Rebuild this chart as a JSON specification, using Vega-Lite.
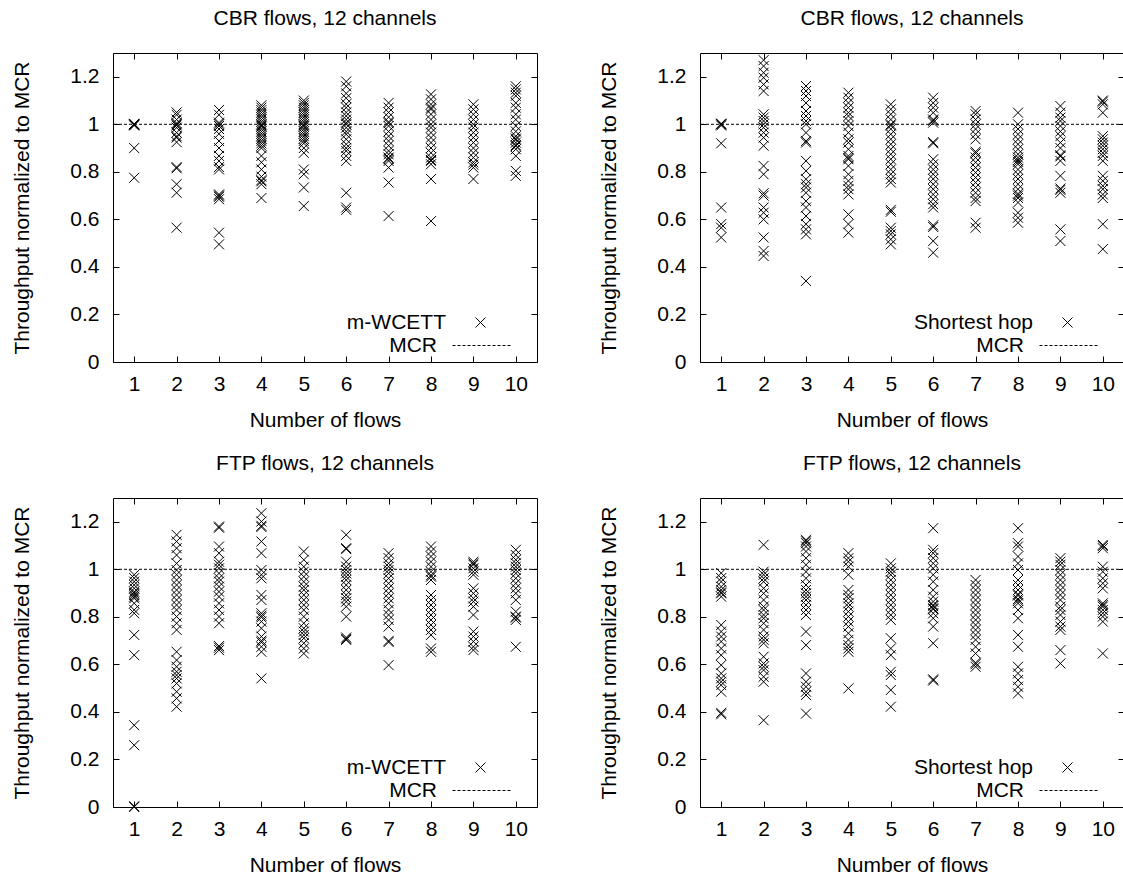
{
"$schema": "https://vega.github.io/schema/vega-lite/v6.json",
"background": "white",
"padding": {"left": 11, "top": 7, "right": 0, "bottom": 0},
"datasets": {
"cw": [
{"n":1,"v":1.0},{"n":1,"v":1.0},{"n":1,"v":0.998},{"n":1,"v":0.995},{"n":1,"v":1.002},{"n":1,"v":0.90},{"n":1,"v":0.775},
{"n":2,"v":1.05},{"n":2,"v":1.04},{"n":2,"v":1.02},{"n":2,"v":1.005},{"n":2,"v":1.0},{"n":2,"v":0.995},{"n":2,"v":0.986},{"n":2,"v":0.965},{"n":2,"v":0.95},{"n":2,"v":0.944},{"n":2,"v":0.925},{"n":2,"v":0.82},{"n":2,"v":0.815},{"n":2,"v":0.748},{"n":2,"v":0.712},{"n":2,"v":0.565},
{"n":3,"v":1.06},{"n":3,"v":1.04},{"n":3,"v":1.007},{"n":3,"v":1.0},{"n":3,"v":0.993},{"n":3,"v":0.98},{"n":3,"v":0.96},{"n":3,"v":0.93},{"n":3,"v":0.9},{"n":3,"v":0.867},{"n":3,"v":0.846},{"n":3,"v":0.82},{"n":3,"v":0.81},{"n":3,"v":0.705},{"n":3,"v":0.70},{"n":3,"v":0.695},{"n":3,"v":0.685},{"n":3,"v":0.544},{"n":3,"v":0.495},
{"n":4,"v":1.08},{"n":4,"v":1.07},{"n":4,"v":1.06},{"n":4,"v":1.05},{"n":4,"v":1.04},{"n":4,"v":1.03},{"n":4,"v":1.02},{"n":4,"v":1.01},{"n":4,"v":1.0},{"n":4,"v":0.995},{"n":4,"v":0.99},{"n":4,"v":0.98},{"n":4,"v":0.97},{"n":4,"v":0.96},{"n":4,"v":0.95},{"n":4,"v":0.94},{"n":4,"v":0.93},{"n":4,"v":0.92},{"n":4,"v":0.91},{"n":4,"v":0.9},{"n":4,"v":0.867},{"n":4,"v":0.84},{"n":4,"v":0.81},{"n":4,"v":0.78},{"n":4,"v":0.765},{"n":4,"v":0.76},{"n":4,"v":0.748},{"n":4,"v":0.69},
{"n":5,"v":1.10},{"n":5,"v":1.09},{"n":5,"v":1.08},{"n":5,"v":1.07},{"n":5,"v":1.06},{"n":5,"v":1.05},{"n":5,"v":1.04},{"n":5,"v":1.03},{"n":5,"v":1.02},{"n":5,"v":1.01},{"n":5,"v":1.0},{"n":5,"v":0.995},{"n":5,"v":0.99},{"n":5,"v":0.98},{"n":5,"v":0.97},{"n":5,"v":0.96},{"n":5,"v":0.95},{"n":5,"v":0.94},{"n":5,"v":0.93},{"n":5,"v":0.92},{"n":5,"v":0.9},{"n":5,"v":0.88},{"n":5,"v":0.81},{"n":5,"v":0.79},{"n":5,"v":0.734},{"n":5,"v":0.656},
{"n":6,"v":1.18},{"n":6,"v":1.16},{"n":6,"v":1.13},{"n":6,"v":1.11},{"n":6,"v":1.085},{"n":6,"v":1.07},{"n":6,"v":1.05},{"n":6,"v":1.035},{"n":6,"v":1.02},{"n":6,"v":1.007},{"n":6,"v":1.0},{"n":6,"v":0.986},{"n":6,"v":0.97},{"n":6,"v":0.958},{"n":6,"v":0.937},{"n":6,"v":0.916},{"n":6,"v":0.9},{"n":6,"v":0.888},{"n":6,"v":0.867},{"n":6,"v":0.846},{"n":6,"v":0.712},{"n":6,"v":0.65},{"n":6,"v":0.64},
{"n":7,"v":1.09},{"n":7,"v":1.07},{"n":7,"v":1.05},{"n":7,"v":1.03},{"n":7,"v":1.01},{"n":7,"v":1.005},{"n":7,"v":0.993},{"n":7,"v":0.97},{"n":7,"v":0.95},{"n":7,"v":0.93},{"n":7,"v":0.91},{"n":7,"v":0.888},{"n":7,"v":0.874},{"n":7,"v":0.86},{"n":7,"v":0.855},{"n":7,"v":0.846},{"n":7,"v":0.818},{"n":7,"v":0.755},{"n":7,"v":0.614},
{"n":8,"v":1.126},{"n":8,"v":1.105},{"n":8,"v":1.084},{"n":8,"v":1.07},{"n":8,"v":1.063},{"n":8,"v":1.042},{"n":8,"v":1.02},{"n":8,"v":1.0},{"n":8,"v":0.986},{"n":8,"v":0.965},{"n":8,"v":0.944},{"n":8,"v":0.923},{"n":8,"v":0.9},{"n":8,"v":0.88},{"n":8,"v":0.86},{"n":8,"v":0.85},{"n":8,"v":0.846},{"n":8,"v":0.832},{"n":8,"v":0.77},{"n":8,"v":0.593},
{"n":9,"v":1.084},{"n":9,"v":1.063},{"n":9,"v":1.042},{"n":9,"v":1.02},{"n":9,"v":1.0},{"n":9,"v":0.986},{"n":9,"v":0.965},{"n":9,"v":0.944},{"n":9,"v":0.923},{"n":9,"v":0.9},{"n":9,"v":0.88},{"n":9,"v":0.86},{"n":9,"v":0.84},{"n":9,"v":0.83},{"n":9,"v":0.818},{"n":9,"v":0.77},
{"n":10,"v":1.16},{"n":10,"v":1.147},{"n":10,"v":1.133},{"n":10,"v":1.12},{"n":10,"v":1.09},{"n":10,"v":1.07},{"n":10,"v":1.042},{"n":10,"v":1.02},{"n":10,"v":0.993},{"n":10,"v":0.97},{"n":10,"v":0.95},{"n":10,"v":0.94},{"n":10,"v":0.935},{"n":10,"v":0.923},{"n":10,"v":0.912},{"n":10,"v":0.908},{"n":10,"v":0.895},{"n":10,"v":0.867},{"n":10,"v":0.804},{"n":10,"v":0.783}
],
"cs": [
{"n":1,"v":1.0},{"n":1,"v":1.0},{"n":1,"v":0.995},{"n":1,"v":1.003},{"n":1,"v":0.92},{"n":1,"v":0.65},{"n":1,"v":0.58},{"n":1,"v":0.565},{"n":1,"v":0.524},
{"n":2,"v":1.27},{"n":2,"v":1.245},{"n":2,"v":1.217},{"n":2,"v":1.196},{"n":2,"v":1.168},{"n":2,"v":1.14},{"n":2,"v":1.042},{"n":2,"v":1.028},{"n":2,"v":1.014},{"n":2,"v":1.0},{"n":2,"v":0.986},{"n":2,"v":0.965},{"n":2,"v":0.944},{"n":2,"v":0.91},{"n":2,"v":0.825},{"n":2,"v":0.79},{"n":2,"v":0.71},{"n":2,"v":0.70},{"n":2,"v":0.65},{"n":2,"v":0.628},{"n":2,"v":0.6},{"n":2,"v":0.524},{"n":2,"v":0.467},{"n":2,"v":0.446},
{"n":3,"v":1.161},{"n":3,"v":1.14},{"n":3,"v":1.119},{"n":3,"v":1.09},{"n":3,"v":1.056},{"n":3,"v":1.035},{"n":3,"v":1.014},{"n":3,"v":1.0},{"n":3,"v":0.965},{"n":3,"v":0.93},{"n":3,"v":0.923},{"n":3,"v":0.846},{"n":3,"v":0.804},{"n":3,"v":0.769},{"n":3,"v":0.748},{"n":3,"v":0.734},{"n":3,"v":0.712},{"n":3,"v":0.677},{"n":3,"v":0.65},{"n":3,"v":0.614},{"n":3,"v":0.58},{"n":3,"v":0.558},{"n":3,"v":0.537},{"n":3,"v":0.341},
{"n":4,"v":1.133},{"n":4,"v":1.112},{"n":4,"v":1.09},{"n":4,"v":1.07},{"n":4,"v":1.049},{"n":4,"v":1.035},{"n":4,"v":1.014},{"n":4,"v":0.993},{"n":4,"v":0.965},{"n":4,"v":0.937},{"n":4,"v":0.923},{"n":4,"v":0.895},{"n":4,"v":0.867},{"n":4,"v":0.858},{"n":4,"v":0.853},{"n":4,"v":0.825},{"n":4,"v":0.79},{"n":4,"v":0.762},{"n":4,"v":0.741},{"n":4,"v":0.727},{"n":4,"v":0.705},{"n":4,"v":0.621},{"n":4,"v":0.58},{"n":4,"v":0.544},
{"n":5,"v":1.084},{"n":5,"v":1.063},{"n":5,"v":1.042},{"n":5,"v":1.02},{"n":5,"v":1.0},{"n":5,"v":0.995},{"n":5,"v":0.98},{"n":5,"v":0.958},{"n":5,"v":0.937},{"n":5,"v":0.916},{"n":5,"v":0.895},{"n":5,"v":0.874},{"n":5,"v":0.853},{"n":5,"v":0.832},{"n":5,"v":0.81},{"n":5,"v":0.79},{"n":5,"v":0.77},{"n":5,"v":0.755},{"n":5,"v":0.64},{"n":5,"v":0.632},{"n":5,"v":0.565},{"n":5,"v":0.551},{"n":5,"v":0.537},{"n":5,"v":0.516},{"n":5,"v":0.495},
{"n":6,"v":1.112},{"n":6,"v":1.09},{"n":6,"v":1.07},{"n":6,"v":1.049},{"n":6,"v":1.02},{"n":6,"v":1.015},{"n":6,"v":1.007},{"n":6,"v":0.925},{"n":6,"v":0.92},{"n":6,"v":0.853},{"n":6,"v":0.832},{"n":6,"v":0.81},{"n":6,"v":0.79},{"n":6,"v":0.77},{"n":6,"v":0.748},{"n":6,"v":0.727},{"n":6,"v":0.705},{"n":6,"v":0.685},{"n":6,"v":0.664},{"n":6,"v":0.65},{"n":6,"v":0.575},{"n":6,"v":0.568},{"n":6,"v":0.509},{"n":6,"v":0.46},
{"n":7,"v":1.056},{"n":7,"v":1.042},{"n":7,"v":1.02},{"n":7,"v":1.0},{"n":7,"v":0.98},{"n":7,"v":0.958},{"n":7,"v":0.937},{"n":7,"v":0.885},{"n":7,"v":0.878},{"n":7,"v":0.86},{"n":7,"v":0.84},{"n":7,"v":0.818},{"n":7,"v":0.797},{"n":7,"v":0.776},{"n":7,"v":0.755},{"n":7,"v":0.734},{"n":7,"v":0.712},{"n":7,"v":0.69},{"n":7,"v":0.677},{"n":7,"v":0.586},{"n":7,"v":0.565},
{"n":8,"v":1.049},{"n":8,"v":1.0},{"n":8,"v":0.98},{"n":8,"v":0.958},{"n":8,"v":0.937},{"n":8,"v":0.916},{"n":8,"v":0.895},{"n":8,"v":0.874},{"n":8,"v":0.86},{"n":8,"v":0.85},{"n":8,"v":0.842},{"n":8,"v":0.832},{"n":8,"v":0.81},{"n":8,"v":0.79},{"n":8,"v":0.77},{"n":8,"v":0.748},{"n":8,"v":0.727},{"n":8,"v":0.708},{"n":8,"v":0.70},{"n":8,"v":0.69},{"n":8,"v":0.671},{"n":8,"v":0.628},{"n":8,"v":0.607},{"n":8,"v":0.586},
{"n":9,"v":1.077},{"n":9,"v":1.049},{"n":9,"v":1.028},{"n":9,"v":1.014},{"n":9,"v":0.993},{"n":9,"v":0.97},{"n":9,"v":0.95},{"n":9,"v":0.923},{"n":9,"v":0.9},{"n":9,"v":0.87},{"n":9,"v":0.865},{"n":9,"v":0.846},{"n":9,"v":0.783},{"n":9,"v":0.73},{"n":9,"v":0.724},{"n":9,"v":0.712},{"n":9,"v":0.558},{"n":9,"v":0.509},
{"n":10,"v":1.1},{"n":10,"v":1.095},{"n":10,"v":1.084},{"n":10,"v":1.049},{"n":10,"v":0.95},{"n":10,"v":0.937},{"n":10,"v":0.923},{"n":10,"v":0.91},{"n":10,"v":0.895},{"n":10,"v":0.88},{"n":10,"v":0.867},{"n":10,"v":0.846},{"n":10,"v":0.783},{"n":10,"v":0.762},{"n":10,"v":0.741},{"n":10,"v":0.727},{"n":10,"v":0.705},{"n":10,"v":0.69},{"n":10,"v":0.58},{"n":10,"v":0.475}
],
"fw": [
{"n":1,"v":0.977},{"n":1,"v":0.963},{"n":1,"v":0.948},{"n":1,"v":0.934},{"n":1,"v":0.92},{"n":1,"v":0.906},{"n":1,"v":0.9},{"n":1,"v":0.892},{"n":1,"v":0.885},{"n":1,"v":0.878},{"n":1,"v":0.857},{"n":1,"v":0.829},{"n":1,"v":0.815},{"n":1,"v":0.724},{"n":1,"v":0.639},{"n":1,"v":0.344},{"n":1,"v":0.26},{"n":1,"v":0.0},{"n":1,"v":0.003},
{"n":2,"v":1.145},{"n":2,"v":1.117},{"n":2,"v":1.089},{"n":2,"v":1.06},{"n":2,"v":1.025},{"n":2,"v":0.997},{"n":2,"v":0.977},{"n":2,"v":0.955},{"n":2,"v":0.934},{"n":2,"v":0.913},{"n":2,"v":0.892},{"n":2,"v":0.871},{"n":2,"v":0.85},{"n":2,"v":0.829},{"n":2,"v":0.801},{"n":2,"v":0.773},{"n":2,"v":0.745},{"n":2,"v":0.653},{"n":2,"v":0.618},{"n":2,"v":0.59},{"n":2,"v":0.569},{"n":2,"v":0.555},{"n":2,"v":0.541},{"n":2,"v":0.52},{"n":2,"v":0.485},{"n":2,"v":0.457},{"n":2,"v":0.422},
{"n":3,"v":1.18},{"n":3,"v":1.175},{"n":3,"v":1.096},{"n":3,"v":1.068},{"n":3,"v":1.032},{"n":3,"v":1.019},{"n":3,"v":1.004},{"n":3,"v":0.983},{"n":3,"v":0.962},{"n":3,"v":0.948},{"n":3,"v":0.927},{"n":3,"v":0.906},{"n":3,"v":0.885},{"n":3,"v":0.857},{"n":3,"v":0.829},{"n":3,"v":0.801},{"n":3,"v":0.773},{"n":3,"v":0.677},{"n":3,"v":0.67},{"n":3,"v":0.66},
{"n":4,"v":1.236},{"n":4,"v":1.201},{"n":4,"v":1.183},{"n":4,"v":1.178},{"n":4,"v":1.117},{"n":4,"v":1.068},{"n":4,"v":0.997},{"n":4,"v":0.977},{"n":4,"v":0.962},{"n":4,"v":0.892},{"n":4,"v":0.871},{"n":4,"v":0.815},{"n":4,"v":0.805},{"n":4,"v":0.798},{"n":4,"v":0.78},{"n":4,"v":0.752},{"n":4,"v":0.717},{"n":4,"v":0.7},{"n":4,"v":0.693},{"n":4,"v":0.674},{"n":4,"v":0.653},{"n":4,"v":0.541},
{"n":5,"v":1.075},{"n":5,"v":1.04},{"n":5,"v":1.011},{"n":5,"v":0.99},{"n":5,"v":0.969},{"n":5,"v":0.948},{"n":5,"v":0.927},{"n":5,"v":0.913},{"n":5,"v":0.892},{"n":5,"v":0.871},{"n":5,"v":0.85},{"n":5,"v":0.829},{"n":5,"v":0.801},{"n":5,"v":0.773},{"n":5,"v":0.752},{"n":5,"v":0.738},{"n":5,"v":0.724},{"n":5,"v":0.71},{"n":5,"v":0.689},{"n":5,"v":0.667},{"n":5,"v":0.646},
{"n":6,"v":1.145},{"n":6,"v":1.089},{"n":6,"v":1.085},{"n":6,"v":1.032},{"n":6,"v":1.011},{"n":6,"v":0.997},{"n":6,"v":0.983},{"n":6,"v":0.969},{"n":6,"v":0.955},{"n":6,"v":0.934},{"n":6,"v":0.913},{"n":6,"v":0.892},{"n":6,"v":0.878},{"n":6,"v":0.864},{"n":6,"v":0.843},{"n":6,"v":0.801},{"n":6,"v":0.713},{"n":6,"v":0.707},{"n":6,"v":0.703},
{"n":7,"v":1.068},{"n":7,"v":1.047},{"n":7,"v":1.025},{"n":7,"v":1.011},{"n":7,"v":0.997},{"n":7,"v":0.983},{"n":7,"v":0.962},{"n":7,"v":0.941},{"n":7,"v":0.92},{"n":7,"v":0.899},{"n":7,"v":0.878},{"n":7,"v":0.857},{"n":7,"v":0.829},{"n":7,"v":0.808},{"n":7,"v":0.787},{"n":7,"v":0.759},{"n":7,"v":0.699},{"n":7,"v":0.694},{"n":7,"v":0.597},
{"n":8,"v":1.096},{"n":8,"v":1.075},{"n":8,"v":1.054},{"n":8,"v":1.032},{"n":8,"v":1.011},{"n":8,"v":0.99},{"n":8,"v":0.975},{"n":8,"v":0.969},{"n":8,"v":0.955},{"n":8,"v":0.892},{"n":8,"v":0.871},{"n":8,"v":0.85},{"n":8,"v":0.829},{"n":8,"v":0.808},{"n":8,"v":0.787},{"n":8,"v":0.766},{"n":8,"v":0.745},{"n":8,"v":0.724},{"n":8,"v":0.667},{"n":8,"v":0.653},
{"n":9,"v":1.032},{"n":9,"v":1.025},{"n":9,"v":1.019},{"n":9,"v":1.004},{"n":9,"v":0.99},{"n":9,"v":0.977},{"n":9,"v":0.92},{"n":9,"v":0.899},{"n":9,"v":0.878},{"n":9,"v":0.864},{"n":9,"v":0.843},{"n":9,"v":0.808},{"n":9,"v":0.738},{"n":9,"v":0.717},{"n":9,"v":0.696},{"n":9,"v":0.674},{"n":9,"v":0.66},
{"n":10,"v":1.082},{"n":10,"v":1.06},{"n":10,"v":1.04},{"n":10,"v":1.025},{"n":10,"v":1.011},{"n":10,"v":0.997},{"n":10,"v":0.983},{"n":10,"v":0.962},{"n":10,"v":0.941},{"n":10,"v":0.92},{"n":10,"v":0.899},{"n":10,"v":0.871},{"n":10,"v":0.822},{"n":10,"v":0.801},{"n":10,"v":0.797},{"n":10,"v":0.787},{"n":10,"v":0.674}
],
"fs": [
{"n":1,"v":0.984},{"n":1,"v":0.963},{"n":1,"v":0.948},{"n":1,"v":0.927},{"n":1,"v":0.913},{"n":1,"v":0.903},{"n":1,"v":0.899},{"n":1,"v":0.885},{"n":1,"v":0.766},{"n":1,"v":0.738},{"n":1,"v":0.717},{"n":1,"v":0.696},{"n":1,"v":0.667},{"n":1,"v":0.639},{"n":1,"v":0.597},{"n":1,"v":0.562},{"n":1,"v":0.541},{"n":1,"v":0.527},{"n":1,"v":0.513},{"n":1,"v":0.485},{"n":1,"v":0.396},{"n":1,"v":0.39},
{"n":2,"v":1.103},{"n":2,"v":0.99},{"n":2,"v":0.977},{"n":2,"v":0.962},{"n":2,"v":0.948},{"n":2,"v":0.92},{"n":2,"v":0.899},{"n":2,"v":0.871},{"n":2,"v":0.843},{"n":2,"v":0.829},{"n":2,"v":0.808},{"n":2,"v":0.794},{"n":2,"v":0.773},{"n":2,"v":0.745},{"n":2,"v":0.717},{"n":2,"v":0.703},{"n":2,"v":0.689},{"n":2,"v":0.632},{"n":2,"v":0.604},{"n":2,"v":0.59},{"n":2,"v":0.576},{"n":2,"v":0.548},{"n":2,"v":0.527},{"n":2,"v":0.365},
{"n":3,"v":1.124},{"n":3,"v":1.118},{"n":3,"v":1.11},{"n":3,"v":1.096},{"n":3,"v":1.075},{"n":3,"v":1.047},{"n":3,"v":1.019},{"n":3,"v":0.99},{"n":3,"v":0.962},{"n":3,"v":0.934},{"n":3,"v":0.913},{"n":3,"v":0.899},{"n":3,"v":0.885},{"n":3,"v":0.871},{"n":3,"v":0.85},{"n":3,"v":0.829},{"n":3,"v":0.808},{"n":3,"v":0.738},{"n":3,"v":0.681},{"n":3,"v":0.562},{"n":3,"v":0.527},{"n":3,"v":0.506},{"n":3,"v":0.485},{"n":3,"v":0.471},{"n":3,"v":0.393},
{"n":4,"v":1.068},{"n":4,"v":1.047},{"n":4,"v":1.032},{"n":4,"v":1.011},{"n":4,"v":0.977},{"n":4,"v":0.913},{"n":4,"v":0.892},{"n":4,"v":0.878},{"n":4,"v":0.857},{"n":4,"v":0.843},{"n":4,"v":0.822},{"n":4,"v":0.801},{"n":4,"v":0.78},{"n":4,"v":0.759},{"n":4,"v":0.731},{"n":4,"v":0.703},{"n":4,"v":0.681},{"n":4,"v":0.667},{"n":4,"v":0.653},{"n":4,"v":0.499},
{"n":5,"v":1.025},{"n":5,"v":1.004},{"n":5,"v":0.99},{"n":5,"v":0.977},{"n":5,"v":0.955},{"n":5,"v":0.934},{"n":5,"v":0.913},{"n":5,"v":0.892},{"n":5,"v":0.871},{"n":5,"v":0.85},{"n":5,"v":0.829},{"n":5,"v":0.808},{"n":5,"v":0.787},{"n":5,"v":0.71},{"n":5,"v":0.667},{"n":5,"v":0.639},{"n":5,"v":0.569},{"n":5,"v":0.555},{"n":5,"v":0.492},{"n":5,"v":0.422},
{"n":6,"v":1.173},{"n":6,"v":1.082},{"n":6,"v":1.068},{"n":6,"v":1.047},{"n":6,"v":1.025},{"n":6,"v":1.004},{"n":6,"v":0.977},{"n":6,"v":0.948},{"n":6,"v":0.913},{"n":6,"v":0.885},{"n":6,"v":0.864},{"n":6,"v":0.85},{"n":6,"v":0.845},{"n":6,"v":0.836},{"n":6,"v":0.832},{"n":6,"v":0.815},{"n":6,"v":0.794},{"n":6,"v":0.759},{"n":6,"v":0.689},{"n":6,"v":0.537},{"n":6,"v":0.532},
{"n":7,"v":0.955},{"n":7,"v":0.934},{"n":7,"v":0.913},{"n":7,"v":0.892},{"n":7,"v":0.871},{"n":7,"v":0.85},{"n":7,"v":0.829},{"n":7,"v":0.808},{"n":7,"v":0.787},{"n":7,"v":0.766},{"n":7,"v":0.745},{"n":7,"v":0.724},{"n":7,"v":0.703},{"n":7,"v":0.674},{"n":7,"v":0.646},{"n":7,"v":0.607},{"n":7,"v":0.601},{"n":7,"v":0.59},
{"n":8,"v":1.173},{"n":8,"v":1.11},{"n":8,"v":1.096},{"n":8,"v":1.054},{"n":8,"v":1.025},{"n":8,"v":0.997},{"n":8,"v":0.955},{"n":8,"v":0.934},{"n":8,"v":0.913},{"n":8,"v":0.895},{"n":8,"v":0.89},{"n":8,"v":0.875},{"n":8,"v":0.868},{"n":8,"v":0.857},{"n":8,"v":0.829},{"n":8,"v":0.794},{"n":8,"v":0.724},{"n":8,"v":0.674},{"n":8,"v":0.59},{"n":8,"v":0.562},{"n":8,"v":0.534},{"n":8,"v":0.506},{"n":8,"v":0.478},
{"n":9,"v":1.047},{"n":9,"v":1.032},{"n":9,"v":1.019},{"n":9,"v":0.997},{"n":9,"v":0.977},{"n":9,"v":0.955},{"n":9,"v":0.934},{"n":9,"v":0.913},{"n":9,"v":0.892},{"n":9,"v":0.871},{"n":9,"v":0.843},{"n":9,"v":0.829},{"n":9,"v":0.808},{"n":9,"v":0.78},{"n":9,"v":0.759},{"n":9,"v":0.745},{"n":9,"v":0.66},{"n":9,"v":0.604},
{"n":10,"v":1.103},{"n":10,"v":1.098},{"n":10,"v":1.089},{"n":10,"v":1.011},{"n":10,"v":0.99},{"n":10,"v":0.962},{"n":10,"v":0.941},{"n":10,"v":0.92},{"n":10,"v":0.857},{"n":10,"v":0.85},{"n":10,"v":0.843},{"n":10,"v":0.829},{"n":10,"v":0.815},{"n":10,"v":0.801},{"n":10,"v":0.78},{"n":10,"v":0.646}
]
},
"config": {
"font": "Liberation Sans",
"view": {"stroke": "black", "strokeWidth": 1, "fill": "white"},
"axis": {"domain": false, "grid": false, "tickColor": "black", "tickWidth": 1, "tickSize": -6, "labelFont": "Liberation Sans", "labelFontSize": 21, "labelColor": "black", "titleFont": "Liberation Sans", "titleFontSize": 21, "titleFontWeight": "normal", "titleColor": "black"},
"axisX": {"labelPadding": 17, "titlePadding": 15, "labelFlush": false},
"axisY": {"labelPadding": 20, "titlePadding": 37, "labelFlush": false},
"title": {"font": "Liberation Sans", "fontSize": 21, "fontWeight": "normal", "color": "black", "offset": 24, "anchor": "middle"},
"legend": {"labelFont": "Liberation Sans", "labelFontSize": 21, "labelColor": "black", "padding": 0}
},
"columns": 2,
"spacing": {"row": 21, "column": 60},
"resolve": {"scale": {"shape": "independent", "strokeDash": "independent"}, "legend": {"shape": "independent", "strokeDash": "independent"}},
"concat": [
{"width": 424, "height": 309, "title": "CBR flows, 12 channels",
 "layer": [
  {"data": {"name": "cw"}, "mark": {"type": "point", "filled": false, "stroke": "black", "strokeWidth": 1, "size": 100, "opacity": 1},
   "encoding": {
    "x": {"field": "n", "type": "quantitative", "scale": {"domain": [0.5, 10.5], "nice": false, "zero": false}, "axis": {"values": [1,2,3,4,5,6,7,8,9,10], "title": "Number of flows"}},
    "y": {"field": "v", "type": "quantitative", "scale": {"domain": [0, 1.3], "nice": false}, "axis": {"values": [0,0.2,0.4,0.6,0.8,1,1.2], "format": "~g", "title": "Throughput normalized to MCR"}},
    "shape": {"datum": "m-WCETT", "scale": {"range": ["M-1,-1L1,1M-1,1L1,-1"]}, "legend": {"title": null, "orient": "none", "legendX": 357, "legendY": 259, "labelAlign": "right", "labelOffset": -45, "symbolSize": 100, "symbolStrokeColor": "black", "symbolStrokeWidth": 1}}
   }},
  {"data": {"values": [{"v": 1}]}, "mark": {"type": "rule", "color": "black", "strokeWidth": 1},
   "encoding": {
    "y": {"field": "v", "type": "quantitative", "axis": null},
    "strokeDash": {"datum": "MCR", "scale": {"range": [[3,2]]}, "legend": {"title": null, "orient": "none", "legendX": 339, "legendY": 263, "labelAlign": "right", "labelOffset": -74, "symbolType": "stroke", "symbolSize": 3364, "symbolStrokeColor": "black", "symbolStrokeWidth": 1}}
   }},
  {"data": {"name": "cw"}, "mark": {"type": "point", "opacity": 0},
   "encoding": {
    "x": {"field": "n", "type": "quantitative", "axis": {"orient": "top", "labels": false, "title": null, "values": [1,2,3,4,5,6,7,8,9,10]}},
    "y": {"field": "v", "type": "quantitative", "axis": {"orient": "right", "labels": false, "title": null, "values": [0,0.2,0.4,0.6,0.8,1,1.2]}}
   }}
 ],
 "resolve": {"axis": {"x": "independent", "y": "independent"}}
},
{"width": 424, "height": 309, "title": "CBR flows, 12 channels",
 "layer": [
  {"data": {"name": "cs"}, "mark": {"type": "point", "filled": false, "stroke": "black", "strokeWidth": 1, "size": 100, "opacity": 1},
   "encoding": {
    "x": {"field": "n", "type": "quantitative", "scale": {"domain": [0.5, 10.5], "nice": false, "zero": false}, "axis": {"values": [1,2,3,4,5,6,7,8,9,10], "title": "Number of flows"}},
    "y": {"field": "v", "type": "quantitative", "scale": {"domain": [0, 1.3], "nice": false}, "axis": {"values": [0,0.2,0.4,0.6,0.8,1,1.2], "format": "~g", "title": "Throughput normalized to MCR"}},
    "shape": {"datum": "Shortest hop", "scale": {"range": ["M-1,-1L1,1M-1,1L1,-1"]}, "legend": {"title": null, "orient": "none", "legendX": 357, "legendY": 259, "labelAlign": "right", "labelOffset": -45, "symbolSize": 100, "symbolStrokeColor": "black", "symbolStrokeWidth": 1}}
   }},
  {"data": {"values": [{"v": 1}]}, "mark": {"type": "rule", "color": "black", "strokeWidth": 1},
   "encoding": {
    "y": {"field": "v", "type": "quantitative", "axis": null},
    "strokeDash": {"datum": "MCR", "scale": {"range": [[3,2]]}, "legend": {"title": null, "orient": "none", "legendX": 339, "legendY": 263, "labelAlign": "right", "labelOffset": -74, "symbolType": "stroke", "symbolSize": 3364, "symbolStrokeColor": "black", "symbolStrokeWidth": 1}}
   }},
  {"data": {"name": "cs"}, "mark": {"type": "point", "opacity": 0},
   "encoding": {
    "x": {"field": "n", "type": "quantitative", "axis": {"orient": "top", "labels": false, "title": null, "values": [1,2,3,4,5,6,7,8,9,10]}},
    "y": {"field": "v", "type": "quantitative", "axis": {"orient": "right", "labels": false, "title": null, "values": [0,0.2,0.4,0.6,0.8,1,1.2]}}
   }}
 ],
 "resolve": {"axis": {"x": "independent", "y": "independent"}}
},
{"width": 424, "height": 309, "title": "FTP flows, 12 channels",
 "layer": [
  {"data": {"name": "fw"}, "mark": {"type": "point", "filled": false, "stroke": "black", "strokeWidth": 1, "size": 100, "opacity": 1},
   "encoding": {
    "x": {"field": "n", "type": "quantitative", "scale": {"domain": [0.5, 10.5], "nice": false, "zero": false}, "axis": {"values": [1,2,3,4,5,6,7,8,9,10], "title": "Number of flows"}},
    "y": {"field": "v", "type": "quantitative", "scale": {"domain": [0, 1.3], "nice": false}, "axis": {"values": [0,0.2,0.4,0.6,0.8,1,1.2], "format": "~g", "title": "Throughput normalized to MCR"}},
    "shape": {"datum": "m-WCETT", "scale": {"range": ["M-1,-1L1,1M-1,1L1,-1"]}, "legend": {"title": null, "orient": "none", "legendX": 357, "legendY": 259, "labelAlign": "right", "labelOffset": -45, "symbolSize": 100, "symbolStrokeColor": "black", "symbolStrokeWidth": 1}}
   }},
  {"data": {"values": [{"v": 1}]}, "mark": {"type": "rule", "color": "black", "strokeWidth": 1},
   "encoding": {
    "y": {"field": "v", "type": "quantitative", "axis": null},
    "strokeDash": {"datum": "MCR", "scale": {"range": [[3,2]]}, "legend": {"title": null, "orient": "none", "legendX": 339, "legendY": 263, "labelAlign": "right", "labelOffset": -74, "symbolType": "stroke", "symbolSize": 3364, "symbolStrokeColor": "black", "symbolStrokeWidth": 1}}
   }},
  {"data": {"name": "fw"}, "mark": {"type": "point", "opacity": 0},
   "encoding": {
    "x": {"field": "n", "type": "quantitative", "axis": {"orient": "top", "labels": false, "title": null, "values": [1,2,3,4,5,6,7,8,9,10]}},
    "y": {"field": "v", "type": "quantitative", "axis": {"orient": "right", "labels": false, "title": null, "values": [0,0.2,0.4,0.6,0.8,1,1.2]}}
   }}
 ],
 "resolve": {"axis": {"x": "independent", "y": "independent"}}
},
{"width": 424, "height": 309, "title": "FTP flows, 12 channels",
 "layer": [
  {"data": {"name": "fs"}, "mark": {"type": "point", "filled": false, "stroke": "black", "strokeWidth": 1, "size": 100, "opacity": 1},
   "encoding": {
    "x": {"field": "n", "type": "quantitative", "scale": {"domain": [0.5, 10.5], "nice": false, "zero": false}, "axis": {"values": [1,2,3,4,5,6,7,8,9,10], "title": "Number of flows"}},
    "y": {"field": "v", "type": "quantitative", "scale": {"domain": [0, 1.3], "nice": false}, "axis": {"values": [0,0.2,0.4,0.6,0.8,1,1.2], "format": "~g", "title": "Throughput normalized to MCR"}},
    "shape": {"datum": "Shortest hop", "scale": {"range": ["M-1,-1L1,1M-1,1L1,-1"]}, "legend": {"title": null, "orient": "none", "legendX": 357, "legendY": 259, "labelAlign": "right", "labelOffset": -45, "symbolSize": 100, "symbolStrokeColor": "black", "symbolStrokeWidth": 1}}
   }},
  {"data": {"values": [{"v": 1}]}, "mark": {"type": "rule", "color": "black", "strokeWidth": 1},
   "encoding": {
    "y": {"field": "v", "type": "quantitative", "axis": null},
    "strokeDash": {"datum": "MCR", "scale": {"range": [[3,2]]}, "legend": {"title": null, "orient": "none", "legendX": 339, "legendY": 263, "labelAlign": "right", "labelOffset": -74, "symbolType": "stroke", "symbolSize": 3364, "symbolStrokeColor": "black", "symbolStrokeWidth": 1}}
   }},
  {"data": {"name": "fs"}, "mark": {"type": "point", "opacity": 0},
   "encoding": {
    "x": {"field": "n", "type": "quantitative", "axis": {"orient": "top", "labels": false, "title": null, "values": [1,2,3,4,5,6,7,8,9,10]}},
    "y": {"field": "v", "type": "quantitative", "axis": {"orient": "right", "labels": false, "title": null, "values": [0,0.2,0.4,0.6,0.8,1,1.2]}}
   }}
 ],
 "resolve": {"axis": {"x": "independent", "y": "independent"}}
}
]
}
